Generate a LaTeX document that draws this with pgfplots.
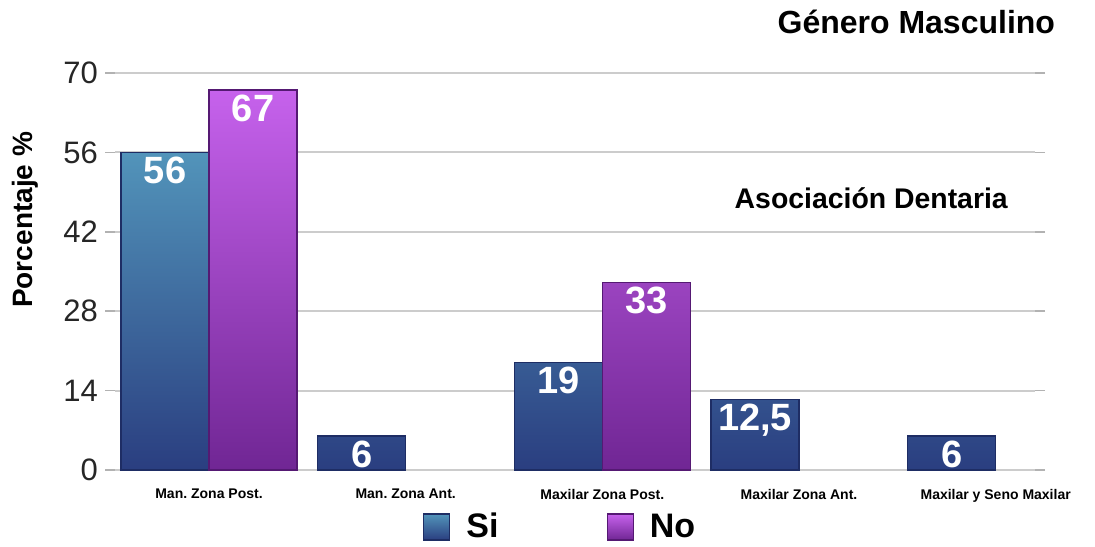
\documentclass[border=0pt]{standalone}
\usepackage{pgfplots}
\pgfplotsset{compat=1.18}
\usepackage{fontspec}
\setmainfont{Liberation Sans}
\frenchspacing
\definecolor{sitop}{RGB}{82,148,186}
\definecolor{sibot}{RGB}{42,62,128}
\definecolor{siedge}{RGB}{30,45,100}
\definecolor{notop}{RGB}{198,98,236}
\definecolor{nobot}{RGB}{112,38,148}
\definecolor{noedge}{RGB}{85,25,115}
\begin{document}
\begin{tikzpicture}[x=1pt,y=1pt]
\useasboundingbox (0,0) rectangle (547.5,273);
\begin{axis}[
  at={(57.5pt,38pt)}, anchor=south west,
  scale only axis, width=460pt, height=198.5pt,
  ybar=0pt, bar width=44pt,
  xmin=-0.478, xmax=4.2, ymin=0, ymax=70,
  ytick={0,14,28,42,56,70},
  xtick={0,1,2,3,4},
  xticklabels={Man. Zona Post., Man. Zona Ant., Maxilar Zona Post., Maxilar Zona Ant., Maxilar y Seno Maxilar},
  xticklabel style={font=\bfseries\fontsize{7}{8}\selectfont, yshift=-1pt},
  xtick style={draw=none},
  ytick style={draw=gray!60, line width=0.8pt},
  tick align=outside, major tick length=5pt,
  axis line style={draw=none},
  ymajorgrids, grid style={gray!40, line width=0.9pt},
  /pgf/number format/assume math mode=true,
  yticklabel style={font=\fontsize{15.5}{16}\selectfont, text=black!85},
  ylabel={Porcentaje \%},
  every axis y label/.style={at={(axis description cs:-0.098,0.63)}, rotate=90, anchor=center, font=\bfseries\fontsize{14}{15}\selectfont},
  point meta=explicit symbolic,
  nodes near coords,
  every node near coord/.append style={anchor=north, yshift=-1pt, text=white, font=\bfseries\fontsize{19}{20}\selectfont, inner sep=1pt},
  legend style={at={(axis description cs:0.485,-0.1436)}, anchor=center, draw=none, fill=none,
    font=\bfseries\fontsize{17}{18}\selectfont, legend columns=2,
    /tikz/every odd column/.append style={column sep=6pt},
    /tikz/every even column/.append style={column sep=52pt}},
  clip=false,
]
\addplot[draw=siedge, line width=0.6pt, top color=sitop, bottom color=sibot,
  legend image code/.code={\path[top color=sitop, bottom color=sibot] (0pt,-6.5pt) rectangle (13pt,6.5pt);}]
  coordinates {(0,56) [56] (1,6) [6] (2,19) [19] (3,12.5) [{12,5}] (4,6) [6]};
\addplot[draw=noedge, line width=0.6pt, top color=notop, bottom color=nobot,
  legend image code/.code={\path[top color=notop, bottom color=nobot] (0pt,-6.5pt) rectangle (13pt,6.5pt);}]
  coordinates {(0,67) [67] (2,33) [33]};
\legend{Si, No}
\node[font=\bfseries\fontsize{16}{17}\selectfont] at (axis description cs:0.871,1.128) {Género Masculino};
\node[font=\bfseries\fontsize{14.2}{15}\selectfont] at (axis description cs:0.822,0.685) {Asociación Dentaria};
\end{axis}
\end{tikzpicture}
\end{document}
